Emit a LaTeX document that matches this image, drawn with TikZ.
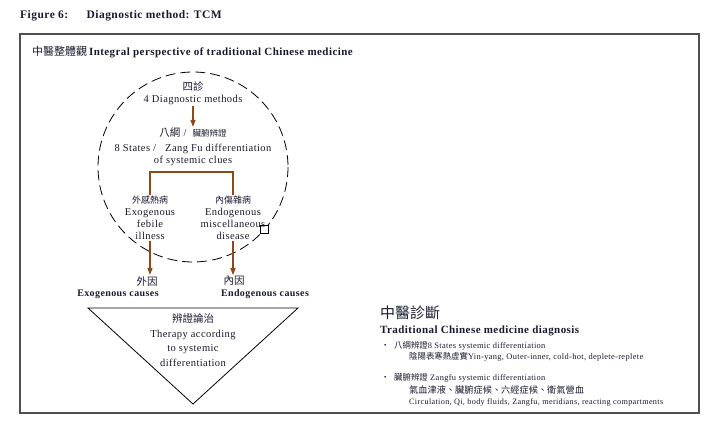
\documentclass[tikz,border=0pt]{standalone}
\usepackage{fontspec}
\usepackage{xcolor}
\setmainfont[LetterSpace=4]{Liberation Serif}
\newfontfamily\cjk{Noto Sans CJK TC}
\usetikzlibrary{arrows.meta,positioning,calc}
\definecolor{ink}{HTML}{1A1A2E}
\definecolor{umber}{HTML}{8B4A1E}
\definecolor{rim}{HTML}{505050}
\begin{document}
\begin{tikzpicture}[x=1pt,y=-1pt,text=ink,
  t/.style={inner sep=1pt,align=center,font=\fontsize{10.5}{12}\selectfont},
  s/.style={inner sep=1pt,anchor=west,font=\fontsize{8.4}{10}\selectfont},
  hd/.style={inner sep=0pt,anchor=west,font=\bfseries\fontsize{11}{13}\selectfont},
  lk/.style={draw=umber,line width=1.2pt},
  ar/.style={lk,-{Triangle[length=7pt,width=5pt]}}]
\useasboundingbox (0,0) rectangle (718,426);
\node[hd,font=\bfseries\fontsize{11.5}{13}\selectfont] (title) at (20,16) {Figure 6:\hspace{1.6em}Diagnostic method: TCM};
\draw[rim,line width=1.3pt] (20,34) rectangle (699,413);
\node[hd] (head) at (32,52) {{\cjk\mdseries 中醫整體觀}\,Integral perspective of traditional Chinese medicine};
\draw[black,line width=0.8pt,dash pattern=on 10pt off 5pt] (193,167) circle (95);
\node[draw=black,line width=0.8pt,fill=white,minimum size=8pt,inner sep=0pt] (sq) at (264,229) {};
\node[t] (sizhen) at (193,86) {\cjk 四診};
\node[t] (methods) at (193,100) {4 Diagnostic methods};
\node[t] (bagang) at (193,133) {{\cjk 八綱} /\ \ {\cjk\fontsize{8.5}{10}\selectfont 臟腑辨證}};
\node[t] (states) at (193,155) {8 States /\ \ \ Zang Fu differentiation\\of systemic clues};
\coordinate (fork) at (193,172);
\node[t,anchor=north] (exo) at (150,195) {{\cjk\fontsize{9}{12}\selectfont 外感熱病}\\Exogenous\\febile\\illness};
\node[t,anchor=north] (endo) at (233,195) {{\cjk\fontsize{9}{12}\selectfont 內傷雜病}\\Endogenous\\miscellaneous\\disease};
\node[t] (exocn) at (147,281) {\cjk 外因};
\node[t,font=\bfseries\fontsize{10}{12}\selectfont] (exocause) at (118,294) {Exogenous causes};
\node[t] (endocn) at (234,281) {\cjk 內因};
\node[t,font=\bfseries\fontsize{10}{12}\selectfont] (endocause) at (265,294) {Endogenous causes};
\draw[ar] (methods) -- (bagang);
\draw[lk] (exo.north) |- (fork) -| (endo.north);
\draw[ar] (exo.south) -- (exo.south|-exocn.north);
\draw[ar] (endo.south) -- (endo.south|-endocn.north);
\draw[black,line width=0.8pt] (88,308) -- (298,308) -- (193,404) -- cycle;
\node[t,font=\fontsize{10.5}{14.5}\selectfont] (therapy) at (193,340) {\cjk 辨證論治\\Therapy according\\to systemic\\differentiation};
\node[inner sep=0pt,anchor=west,font=\cjk\fontsize{15}{17}\selectfont] (zhenduan) at (380,313) {中醫診斷};
\node[hd] (diag) at (380,331) {Traditional Chinese medicine diagnosis};
\node[s] (b1) at (380,346) {\cjk ・};
\node[s] (st) at (393,346) {{\cjk 八綱辨證}8 States systemic differentiation};
\node[s] (st2) at (408,357) {{\cjk 陰陽表寒熱虛實}Yin-yang, Outer-inner, cold-hot, deplete-replete};
\node[s] (b2) at (380,378) {\cjk ・};
\node[s] (zf) at (393,378) {{\cjk 臟腑辨證} Zangfu systemic differentiation};
\node[s,font=\cjk\fontsize{9.2}{12}\selectfont] (zf2) at (408,390) {氣血津液、臟腑症候、六經症候、衛氣營血};
\node[s,font=\fontsize{8.2}{10}\selectfont] (zf3) at (408,402) {Circulation, Qi, body fluids, Zangfu, meridians, reacting compartments};
\end{tikzpicture}
\end{document}
